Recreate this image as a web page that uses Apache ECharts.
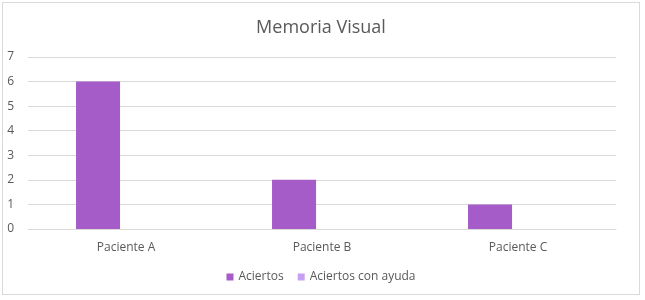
<!DOCTYPE html>
<html>
<head>
<meta charset="utf-8">
<script src="https://cdn.jsdelivr.net/npm/echarts@6/dist/echarts.min.js"></script>
<style>
  html, body { margin: 0; padding: 0; background: #fff; }
  #chart {
    position: absolute; left: 2px; top: 2px;
    width: 638px; height: 293px;
    border: 1px solid #d9d9d9; box-sizing: border-box;
  }
</style>
</head>
<body>
<div id="chart"></div>
<script>
// 数据
const categories = ['Paciente A', 'Paciente B', 'Paciente C'];
const aciertos = [6, 2, 1];
const aciertosConAyuda = [0, 0, 0];
const yTicks = [0, 1, 2, 3, 4, 5, 6, 7];

const chart = echarts.init(document.getElementById('chart'));

const option = {
  animation: false,
  title: {
    text: 'Memoria Visual',
    left: 'center',
    top: 11,
    textStyle: { fontFamily: 'Open Sans', fontSize: 18, fontWeight: 'normal', color: '#595959' }
  },
  legend: {
    bottom: 6,
    left: 'center',
    itemWidth: 7,
    itemHeight: 7,
    itemGap: 14,
    icon: 'rect',
    textStyle: { fontFamily: 'Open Sans', fontSize: 12, color: '#595959' },
    data: ['Aciertos', 'Aciertos con ayuda']
  },
  grid: { left: 25, right: 23, top: 54, bottom: 65 },
  xAxis: {
    type: 'category',
    data: categories,
    axisLine: { lineStyle: { color: '#d9d9d9' } },
    axisTick: { show: false },
    axisLabel: { fontFamily: 'Open Sans', fontSize: 12, color: '#595959', margin: 13 }
  },
  yAxis: {
    type: 'value',
    min: yTicks[0],
    max: yTicks[yTicks.length - 1],
    interval: 1,
    axisLine: { show: false },
    axisTick: { show: false },
    splitLine: { lineStyle: { color: '#d9d9d9' } },
    axisLabel: { fontFamily: 'Open Sans', fontSize: 12, color: '#595959', margin: 14 }
  },
  series: [
    {
      name: 'Aciertos',
      type: 'bar',
      data: aciertos,
      barGap: '27%',
      barCategoryGap: '49%',
      itemStyle: { color: '#a65cc8' }
    },
    {
      name: 'Aciertos con ayuda',
      type: 'bar',
      data: aciertosConAyuda,
      itemStyle: { color: '#c89ef3' }
    }
  ]
};

chart.setOption(option);
</script>
</body>
</html>
